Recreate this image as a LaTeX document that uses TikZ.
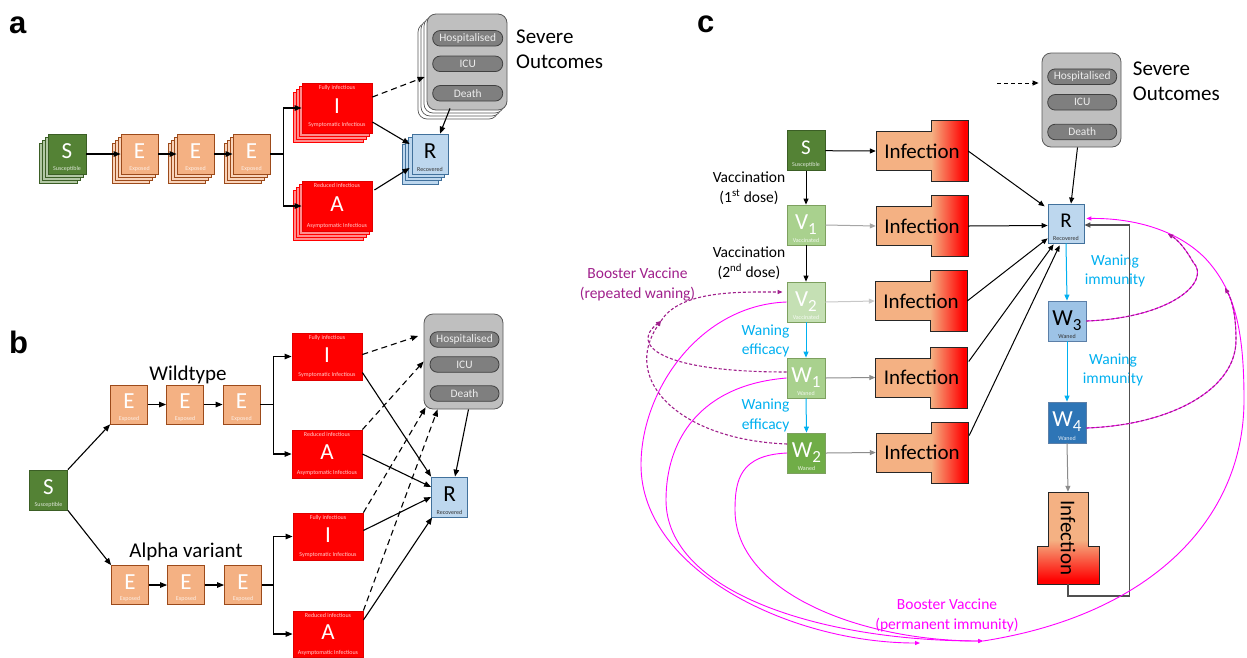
\documentclass[tikz,border=0pt]{standalone}
\usepackage{fontspec}
\setmainfont{Carlito}
\newfontfamily\lblfont{Liberation Sans}
\usetikzlibrary{arrows.meta,calc}
\definecolor{sgreen}{HTML}{548235}
\definecolor{sgreenD}{HTML}{3B5E25}
\definecolor{eorange}{HTML}{F4B183}
\definecolor{ebrown}{HTML}{9C4A1A}
\definecolor{ired}{HTML}{FF0000}
\definecolor{iredD}{HTML}{E00000}
\definecolor{rblue}{HTML}{BDD7EE}
\definecolor{rblueD}{HTML}{41719C}
\definecolor{sevgray}{HTML}{BFBFBF}
\definecolor{sevD}{HTML}{595959}
\definecolor{pillc}{HTML}{7F7F7F}
\definecolor{pillD}{HTML}{404040}
\definecolor{pilltxt}{HTML}{EDEDED}
\definecolor{vone}{HTML}{A9D18E}
\definecolor{vtwo}{HTML}{C5E0B4}
\definecolor{wone}{HTML}{A9D18E}
\definecolor{wtwo}{HTML}{70AD47}
\definecolor{vD}{HTML}{7DA05F}
\definecolor{wthree}{HTML}{9DC3E6}
\definecolor{wfour}{HTML}{2E75B6}
\definecolor{wD}{HTML}{5B7FA8}
\definecolor{cyanb}{HTML}{00B0F0}
\definecolor{mag}{HTML}{FF00FF}
\definecolor{purp}{RGB}{160,32,140}
\definecolor{infor}{HTML}{F4B183}
\definecolor{infred}{HTML}{FF0000}
\definecolor{infline}{HTML}{262626}
\definecolor{retline}{HTML}{505050}
\definecolor{grayA}{HTML}{A6A6A6}
\definecolor{grayB}{HTML}{C8C8C8}
\definecolor{grayC}{HTML}{8C8C8C}
\pgfdeclarehorizontalshading{infh}{100bp}{color(0bp)=(infor); color(55bp)=(infor); color(73bp)=(infred); color(100bp)=(infred)}
\pgfdeclareverticalshading{infv}{100bp}{color(0bp)=(infred); color(27bp)=(infred); color(49bp)=(infor); color(100bp)=(infor)}
\newcommand\stk[7]{%
  \foreach \k in {3,2,1}{%
    \draw[fill=#4,draw=#5,line width=0.7pt,#7] ($(#1)+(-\k*#6-#2/2,\k*#6-#3/2)$) rectangle ++(#2,#3);}}
\newcommand\infH[1]{\shadedraw[shading=infh,draw=infline,line width=0.9pt,shift={(#1)}] (-46,-19.5) -- (9,-19.5) -- (9,-30.5) -- (46,-30.5) -- (46,30.5) -- (9,30.5) -- (9,19.5) -- (-46,19.5) -- cycle;}
\newcommand\subn[1]{\raisebox{-5pt}{\fontsize{17}{17}\selectfont #1}}
\begin{document}
\begin{tikzpicture}[x=1pt,y=-1pt,
  every node/.style={inner sep=0pt},
  arr/.style={line width=1.1pt,-{Triangle[length=7pt,width=5.5pt]}},
  arrc/.style={line width=1pt,-{Triangle[length=6pt,width=5pt]}},
  dsh/.style={arr,dash pattern=on 6pt off 4pt},
  bx/.style={draw,line width=0.8pt,minimum width=38pt,minimum height=40pt,text height=8pt,text depth=0pt,font=\fontsize{23}{23}\selectfont},
  capt/.style={font=\fontsize{6}{6}\selectfont,inner sep=3pt},
  sbx/.style={bx,fill=sgreen,draw=sgreenD,text=white},
  ebx/.style={bx,fill=eorange,draw=ebrown,text=white,minimum width=37pt},
  ibx/.style={bx,fill=ired,draw=iredD,text=white,minimum width=70pt,minimum height=50pt,text height=11pt},
  rbx/.style={bx,fill=rblue,draw=rblueD,text=black,minimum width=36pt},
  sev/.style={draw=sevD,fill=sevgray,line width=0.8pt,rounded corners=9pt,minimum width=80pt,minimum height=96pt},
  pill/.style={draw=pillD,fill=pillc,line width=0.8pt,rounded corners=7.5pt,minimum width=70pt,minimum height=15.5pt,text=pilltxt,font=\fontsize{11.4}{11.4}\selectfont},
  big/.style={font=\fontsize{21}{25}\selectfont,align=left},
  lab/.style={font=\fontsize{15.5}{19.5}\selectfont,align=center},
  mg/.style={draw=mag,line width=0.9pt,-{Triangle[length=5pt,width=4pt]}},
  pd/.style={draw=purp,line width=1.1pt,dash pattern=on 3pt off 2pt,-{Triangle[length=5pt,width=4pt]}},
  inft/.style={font=\fontsize{21}{21}\selectfont,minimum width=92pt,minimum height=61pt}]
\fill[white] (0,0) rectangle (1247,657);
\useasboundingbox (0,0) rectangle (1247,657);
% ---------- labels
\node[font=\lblfont\bfseries\fontsize{31}{31}\selectfont,anchor=base west] (la) at (9,33) {a};
\node[font=\lblfont\bfseries\fontsize{31}{31}\selectfont,anchor=base west] (lb) at (9,353) {b};
\node[font=\lblfont\bfseries\fontsize{31}{31}\selectfont,anchor=base west] (lc) at (697,32) {c};
% ================= panel a
\stk{67,154}{38}{40}{sgreen!45}{sgreenD}{3}{}
\node[sbx,label={[capt,anchor=south,text=white!80!sgreen]south:Susceptible}] (Sa) at (67,154) {S};
\foreach \x/\n in {139.5/Ea1,195.5/Ea2,251.5/Ea3}{
  \stk{\x,154}{37}{40}{eorange!55}{ebrown}{3}{}
  \node[ebx,label={[capt,anchor=south,text=white!80!eorange]south:Exposed}] (\n) at (\x,154) {E};}
\stk{337,108}{70}{50}{ired!45}{ired}{3}{}
\node[ibx,label={[capt,anchor=north,text=white!80!red]north:Fully infectious},label={[capt,anchor=south,inner sep=5.5pt,text=white!80!red]south:Symptomatic Infectious}] (Ia) at (337,108) {I};
\stk{337,206}{70}{50}{ired!45}{ired}{3}{}
\node[ibx,label={[capt,anchor=north,text=white!80!red]north:Reduced infectious},label={[capt,anchor=south,inner sep=3pt,text=white!80!red]south:Asymptomatic Infectious}] (Aa) at (337,206) {A};
\stk{430,154}{36}{40}{rblue}{rblueD}{3.3}{}
\node[rbx,label={[capt,anchor=south,text=black!80]south:Recovered}] (Ra) at (430,154) {R};
\stk{467,62}{80}{96}{white}{sevD}{3}{rounded corners=9pt}
\node[sev] (Seva) at (467,62) {};
\node[pill] (Ha) at (467.7,38.3) {Hospitalised};
\node[pill] (Ua) at (467.7,63.8) {ICU};
\node[pill] (Da) at (467.7,93.3) {Death};
\node[big,anchor=west] (SOa) at (516,49) {Severe\\Outcomes};
\draw[arr] (Sa) -- (Ea1);
\draw[arr] (Ea1) -- (Ea2);
\draw[arr] (Ea2) -- (Ea3);
\coordinate (ja) at ($(Ea3.east)+(13,0)$);
\draw[line width=1.1pt] (Ea3.east) -- (ja);
\draw[arr] (ja) |- (Ia.west);
\draw[arr] (ja) |- (Aa.west);
\draw[dsh] ($(Ia.east)+(0,-11)$) -- ($(Seva.west)+(-2,15)$);
\draw[arr] ($(Ia.east)+(0,14)$) -- ($(Ra.west)+(-2,-10)$);
\draw[arr] ($(Aa.east)+(2,-16)$) -- ($(Ra.west)+(-2,14)$);
\draw[arr] ($(Seva.south)+(-17,-2)$) -- ($(Ra.north)+(10,0)$);
% ================= panel b
\node[sbx,label={[capt,anchor=south,text=white!80!sgreen]south:Susceptible}] (Sb) at (48.5,490) {S};
\foreach \x/\n in {129/Eb1,185/Eb2,241.5/Eb3}{
  \node[ebx,minimum height=39pt,label={[capt,anchor=south,text=white!80!eorange]south:Exposed}] (\n) at (\x,404.5) {E};}
\foreach \x/\n in {130/Eb4,186/Eb5,243/Eb6}{
  \node[ebx,minimum height=39pt,label={[capt,anchor=south,text=white!80!eorange]south:Exposed}] (\n) at (\x,585) {E};}
\node[big] (wt) at (188,375) {Wildtype};
\node[big] (av) at (186,552) {Alpha variant};
\node[ibx,minimum height=47pt,label={[capt,anchor=north,text=white!80!red]north:Fully infectious},label={[capt,anchor=south,text=white!80!red]south:Symptomatic Infectious}] (Ib1) at (327,356.5) {I};
\node[ibx,minimum height=48pt,label={[capt,anchor=north,text=white!80!red]north:Reduced infectious},label={[capt,anchor=south,text=white!80!red]south:Asymptomatic Infectious}] (Ab1) at (327,454) {A};
\node[ibx,minimum height=47pt,label={[capt,anchor=north,text=white!80!red]north:Fully infectious},label={[capt,anchor=south,text=white!80!red]south:Symptomatic Infectious}] (Ib2) at (328,536.5) {I};
\node[ibx,minimum height=46pt,label={[capt,anchor=north,text=white!80!red]north:Reduced infectious},label={[capt,anchor=south,inner sep=2pt,text=white!80!red]south:Asymptomatic Infectious}] (Ab2) at (328,634) {A};
\node[rbx,label={[capt,anchor=south,text=black!80]south:Recovered}] (Rb) at (449.5,497) {R};
\node[sev,minimum width=79pt,minimum height=95pt] (Sevb) at (463.5,361.5) {};
\node[pill,minimum width=69pt] (Hb) at (464.5,339.5) {Hospitalised};
\node[pill,minimum width=69pt] (Ub) at (464.5,364.5) {ICU};
\node[pill,minimum width=69pt] (Db) at (464.5,393.5) {Death};
\draw[arr] (Sb.north east) -- (Eb1.south west);
\draw[arr] (Sb.south east) -- (Eb4.north west);
\draw[arr] (Eb1) -- (Eb2);
\draw[arr] (Eb2) -- (Eb3);
\draw[arr] (Eb4) -- (Eb5);
\draw[arr] (Eb5) -- (Eb6);
\coordinate (jb1) at ($(Eb3.east)+(13,0)$);
\coordinate (jb2) at ($(Eb6.east)+(12,0)$);
\draw[line width=1.1pt] (Eb3.east) -- (jb1);
\draw[line width=1.1pt] (Eb6.east) -- (jb2);
\draw[arr] (jb1) |- (Ib1.west);
\draw[arr] (jb1) |- (Ab1.west);
\draw[arr] (jb2) |- (Ib2.west);
\draw[arr] (jb2) |- (Ab2.west);
\draw[dsh] ($(Ib1.east)+(0,-2)$) -- ($(Sevb.west)+(-5.5,-25.5)$);
\draw[dsh] (Ab1.north east) -- (Sevb.west);
\draw[dsh] (Ib2.north east) -- ($(Sevb.south west)+(2,-2)$);
\draw[dsh] (Ab2.north east) -- ($(Sevb.south west)+(14,0)$);
\draw[arr] ($(Ib1.east)+(0,16)$) -- (Rb.north west);
\draw[arr] (Ab1.east) -- ($(Rb.west)+(0,-10)$);
\draw[arr] ($(Ib2.east)+(0,-6)$) -- (Rb.west);
\draw[arr] ($(Ab2.east)+(0,-14)$) -- ($(Rb.south west)+(1,0)$);
\draw[arr] ($(Sevb.south)+(5,0)$) -- ($(Rb.north)+(5.5,0)$);
% ================= panel c
\node[sbx,font=\fontsize{21}{21}\selectfont,label={[capt,anchor=south,text=white!80!sgreen]south:Susceptible}] (Sc) at (806,150.7) {S};
\node[bx,fill=vone,draw=vD,text=white,label={[capt,anchor=south,text=white!85!vone]south:Vaccinated}] (V1) at (806,225) {V\subn{1}};
\node[bx,fill=vtwo,draw=vD,text=white,label={[capt,anchor=south,text=white!85!vtwo]south:Vaccinated}] (V2) at (806,302) {V\subn{2}};
\node[bx,fill=wone,draw=vD,text=white,label={[capt,anchor=south,text=white!85!wone]south:Waned}] (W1) at (806,378) {W\subn{1}};
\node[bx,fill=wtwo,draw=vD,text=white,label={[capt,anchor=south,text=white!85!wtwo]south:Waned}] (W2) at (806.5,453) {W\subn{2}};
\node[rbx,font=\fontsize{21}{21}\selectfont,minimum height=39pt,label={[capt,anchor=south,text=black!80]south:Recovered}] (R) at (1066,223.5) {R};
\node[bx,fill=wthree,draw=wD,text=black,label={[capt,anchor=south,text=black!80]south:Waned}] (W3) at (1067,321) {W\subn{3}};
\node[bx,fill=wfour,draw=wD,text=white,minimum height=41pt,label={[capt,anchor=south,text=white!85!wfour]south:Waned}] (W4) at (1067,422.5) {W\subn{4}};
\node[sev,minimum width=79pt,minimum height=94pt] (Sevc) at (1081.5,100) {};
\node[pill,minimum width=69pt] (Hc) at (1082.2,76.7) {Hospitalised};
\node[pill,minimum width=69pt] (Uc) at (1082.2,102.3) {ICU};
\node[pill,minimum width=69pt] (Dc) at (1082.2,132) {Death};
\node[big,anchor=west] (SOc) at (1132.7,81) {Severe\\Outcomes};
% infection shapes
\coordinate (c1) at (922,151);
\coordinate (c2) at (922,226);
\coordinate (c3) at (921,301);
\coordinate (c4) at (921.5,377.5);
\coordinate (c5) at (922,452.5);
\coordinate (c6) at (1068,538);
\infH{c1}\infH{c2}\infH{c3}\infH{c4}\infH{c5}
\shadedraw[shading=infv,draw=infline,line width=0.9pt,shift={(c6)}] (-20,-46) -- (20,-46) -- (20,8) -- (31,8) -- (31,46) -- (-31,46) -- (-31,8) -- (-20,8) -- cycle;
\node[inft] (i1) at (c1) {Infection};
\node[inft] (i2) at (c2) {Infection};
\node[inft] (i3) at (c3) {Infection};
\node[inft] (i4) at (c4) {Infection};
\node[inft] (i5) at (c5) {Infection};
\node[inft,rotate=-90,minimum height=62pt] (i6) at (c6) {Infection};
% text labels
\node[lab] (vac1) at (749,188) {Vaccination\\(1\textsuperscript{st} dose)};
\node[lab] (vac2) at (749,263) {Vaccination\\(2\textsuperscript{nd} dose)};
\node[lab,text=cyanb] (we1) at (765.5,341) {Waning\\efficacy};
\node[lab,text=cyanb] (we2) at (765.5,415.5) {Waning\\efficacy};
\node[lab,text=cyanb] (wi1) at (1115,271) {Waning\\immunity};
\node[lab,text=cyanb] (wi2) at (1113,370) {Waning\\immunity};
\node[lab,text=purp] (brw) at (637.5,284.3) {Booster Vaccine\\(repeated waning)};
\node[lab,text=mag] (bpi) at (947,615.5) {Booster Vaccine\\(permanent immunity)};
% connectors c
\draw[arrc] (Sc.east) -- (i1.west);
\draw[arrc,color=grayA] (V1.east) -- (i2.west);
\draw[arrc,color=grayB] (V2.east) -- (i3.west);
\draw[arrc,color=grayC] (W1.east) -- (i4.west);
\draw[arrc,color=grayC] (W2.east) -- (i5.west);
\draw[arrc] (Sc.south) -- (V1.north);
\draw[arrc] (V1.south) -- (V2.north);
\draw[arrc,color=cyanb] (V2.south) -- (W1.north);
\draw[arrc,color=cyanb] (W1.south) -- (W2.north);
\draw[arrc] (i1.east) -- ($(R.north west)+(-3,2.7)$);
\draw[arrc] (i2.east) -- ($(R.west)+(0,2)$);
\draw[arrc] (i3.east) -- ($(R.south west)+(0,-5)$);
\draw[arrc] ($(i4.east)+(1,-16)$) -- ($(R.south west)+(6,1)$);
\draw[arrc] ($(i5.east)+(1,-17)$) -- ($(R.south west)+(12,2)$);
\draw[arrc] ($(Sevc.south)+(-4,0)$) -- ($(R.north)+(5,0)$);
\coordinate (dsc) at (997,83);
\draw[arrc,dash pattern=on 4pt off 3pt] (dsc) -- ($(Sevc.west)+(-3,-17)$);
\draw[arrc,color=cyanb] (R.south) -- (W3.north);
\draw[arrc,color=cyanb] (W3.south) -- (W4.north);
\draw[arrc,color=grayC] (W4.south) -- (i6.west);
\draw[line width=1.5pt,color=retline,-{Triangle[length=6pt,width=5pt]}] (i6.east) -- ++(0,12) -| ($(R.east)+(45,1.5)$) -- ($(R.east)+(0,1.5)$);
% magenta booster (permanent)
\coordinate (jm) at (983,641);
\draw[mg] (V2.west) .. controls (700,305) and (641,390) .. (641,465) .. controls (641,570) and (790,643) .. (920,643);
\draw[mg] (W1.west) .. controls (700,385) and (666,440) .. (666,500) .. controls (666,592) and (820,641) .. (jm);
\draw[mg] (W2.west) .. controls (740,455) and (735,480) .. (735,510) .. controls (735,592) and (860,641) .. (jm);
\draw[mg] (jm) .. controls (1150,615) and (1244,520) .. (1244,400) .. controls (1244,330) and (1235,290) .. (1205,258) .. controls (1175,228) and (1130,218) .. ($(R.east)+(2,-5)$);
\draw[mg] (W3.east) .. controls (1170,318) and (1212,282) .. (1193,262) .. controls (1185,248) and (1178,240) .. (1168,234);
\draw[pd] (W3.east) .. controls (1170,318) and (1212,282) .. (1193,262) .. controls (1185,248) and (1178,240) .. (1168,234);
\draw[mg] ($(W4.east)+(0,5.5)$) .. controls (1170,425) and (1236,390) .. (1236,340) .. controls (1236,315) and (1232,300) .. (1225,288);
\draw[pd] ($(W4.east)+(0,5.5)$) .. controls (1170,425) and (1236,390) .. (1236,340) .. controls (1236,315) and (1232,300) .. (1225,288);
% purple booster (repeated waning)
\coordinate (jp) at (661,321);
\draw[pd] ($(W1.west)+(0,-6)$) .. controls (660,372) and (630,345) .. (jp);
\draw[pd] ($(W2.west)+(0,-9)$) .. controls (680,440) and (620,380) .. (jp);
\draw[pd] (jp) .. controls (680,290) and (740,292) .. ($(V2.west)+(-4,-10)$);
\end{tikzpicture}
\end{document}
